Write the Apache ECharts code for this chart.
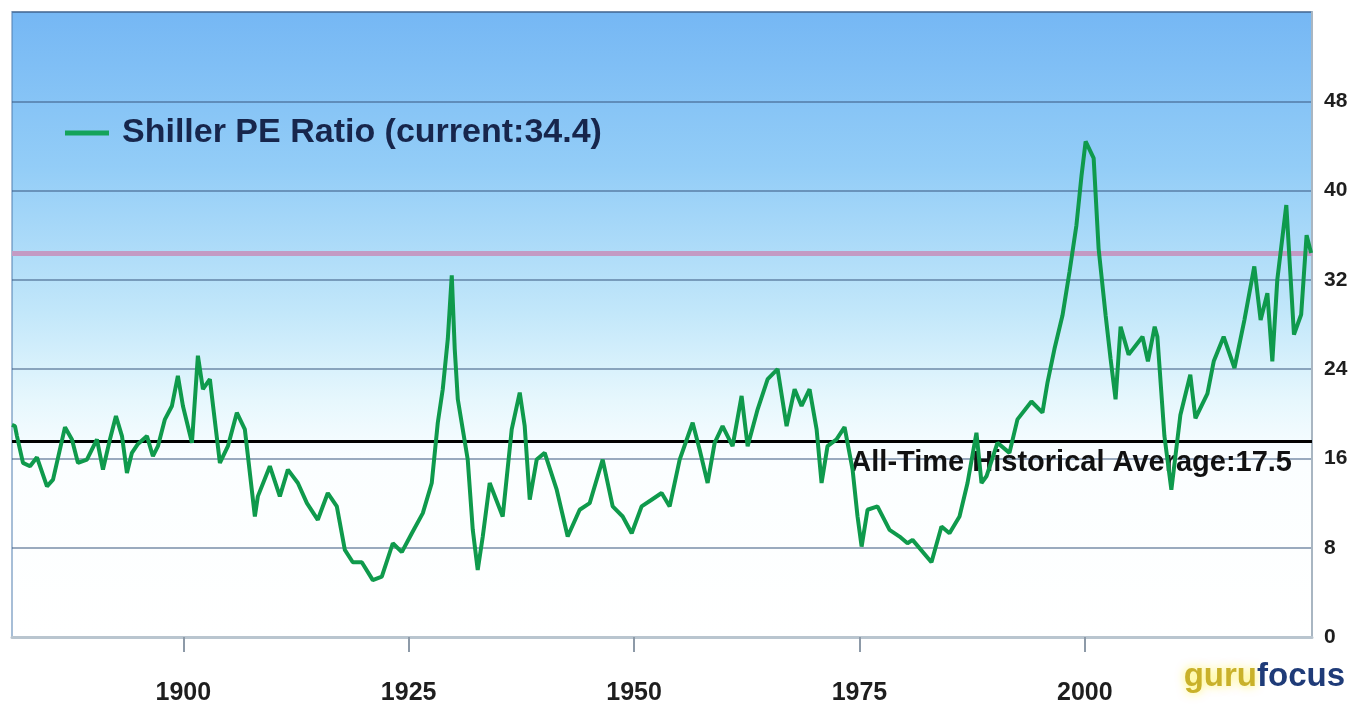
<!DOCTYPE html>
<html>
<head>
<meta charset="utf-8">
<script src="https://cdn.jsdelivr.net/npm/echarts@6/dist/echarts.min.js"></script>
<style>
  html, body { margin: 0; padding: 0; background: #ffffff; }
  #chart { width: 1369px; height: 715px; }
</style>
</head>
<body>
<div id="chart"></div>
<script>
// Shiller PE ratio, decimal year vs. value
const years = [
  1881.0, 1881.33, 1881.55, 1882.22, 1883.0, 1883.77, 1884.88, 1885.55, 1886.88, 1887.65,
  1888.32, 1889.31, 1890.42, 1891.09, 1891.86, 1892.53, 1893.2, 1893.75, 1894.3, 1894.97,
  1895.97, 1896.63, 1897.19, 1897.96, 1898.74, 1899.4, 1899.96, 1900.96, 1901.62, 1902.18,
  1902.95, 1904.06, 1904.95, 1905.94, 1906.83, 1907.94, 1908.27, 1909.6, 1910.71, 1911.6,
  1912.71, 1913.71, 1914.92, 1916.03, 1917.03, 1917.92, 1918.8, 1919.8, 1921.02, 1922.02,
  1923.24, 1924.24, 1925.35, 1926.57, 1927.56, 1928.23, 1928.78, 1929.34, 1929.78, 1930.11,
  1930.45, 1931.0, 1931.55, 1932.11, 1932.66, 1933.22, 1933.99, 1935.43, 1936.43, 1937.32,
  1937.87, 1938.43, 1939.2, 1940.09, 1941.42, 1942.64, 1943.97, 1945.08, 1946.52, 1947.63,
  1948.74, 1949.74, 1950.84, 1951.95, 1953.06, 1953.95, 1955.06, 1956.5, 1957.27, 1958.16,
  1958.94, 1959.82, 1960.93, 1961.93, 1962.6, 1963.71, 1964.82, 1965.92, 1966.92, 1967.81,
  1968.58, 1969.47, 1970.25, 1970.8, 1971.46, 1972.46, 1973.35, 1974.24, 1974.79, 1975.24,
  1975.9, 1977.0, 1978.34, 1979.45, 1980.33, 1980.89, 1982.99, 1984.1, 1984.99, 1986.1,
  1986.99, 1987.98, 1988.54, 1989.09, 1990.31, 1991.64, 1992.53, 1994.08, 1995.3, 1995.86,
  1996.63, 1997.52, 1998.3, 1999.07, 1999.63, 2000.09, 2000.98, 2001.53, 2002.31, 2002.86,
  2003.41, 2003.97, 2004.86, 2006.4, 2007.0, 2007.75, 2008.05, 2008.83, 2009.6, 2010.6,
  2011.7, 2012.27, 2013.6, 2014.3, 2015.4, 2016.6, 2017.7, 2018.8, 2019.5, 2020.25,
  2020.8, 2021.35, 2022.35, 2023.2, 2024.0, 2024.6, 2025.1
];
const peValues = [
  19.0, 18.9, 18.0, 15.6, 15.3, 16.1, 13.5, 14.1, 18.8, 17.7,
  15.6, 15.9, 17.7, 15.0, 17.7, 19.8, 18.0, 14.7, 16.5, 17.3,
  18.0, 16.2, 17.1, 19.5, 20.7, 23.4, 20.7, 17.4, 25.2, 22.2,
  23.1, 15.6, 17.1, 20.1, 18.6, 10.8, 12.6, 15.3, 12.6, 15.0,
  13.8, 12.0, 10.5, 12.9, 11.7, 7.8, 6.7, 6.7, 5.1, 5.4,
  8.4, 7.6, 9.3, 11.1, 13.8, 19.2, 22.2, 26.7, 32.4, 25.8,
  21.3, 18.6, 15.9, 9.6, 6.0, 9.0, 13.8, 10.8, 18.6, 21.9,
  18.9, 12.3, 15.9, 16.5, 13.2, 9.0, 11.4, 12.0, 15.9, 11.7,
  10.8, 9.3, 11.7, 12.3, 12.9, 11.7, 15.9, 19.2, 16.8, 13.8,
  17.4, 18.9, 17.1, 21.6, 17.1, 20.4, 23.1, 24.0, 18.9, 22.2,
  20.7, 22.2, 18.6, 13.8, 17.1, 17.7, 18.8, 15.0, 10.8, 8.1,
  11.4, 11.7, 9.6, 9.0, 8.4, 8.7, 6.7, 9.9, 9.3, 10.8,
  13.8, 18.3, 13.8, 14.4, 17.4, 16.5, 19.5, 21.1, 20.1, 22.8,
  25.8, 28.8, 32.7, 36.9, 41.3, 44.4, 42.9, 34.8, 28.8, 24.9,
  21.3, 27.8, 25.3, 26.9, 24.7, 27.8, 26.9, 18.0, 13.2, 19.9,
  23.5, 19.6, 21.8, 24.7, 26.9, 24.1, 28.4, 33.2, 28.4, 30.8,
  24.7, 32.0, 38.7, 27.1, 28.9, 36.0, 34.4
];

const seriesName = 'Shiller PE Ratio';
const currentValue = 34.4;
const historicalAverage = 17.5;

const xMin = 1881;
const xMax = 2025.2;
const xTickYears = [1900, 1925, 1950, 1975, 2000];
const yMin = 0;
const yMax = 56;
const yStep = 8;

const linePoints = years.map((y, i) => [y, peValues[i]]);

const chart = echarts.init(document.getElementById('chart'));

chart.setOption({
  animation: false,
  backgroundColor: '#ffffff',
  grid: {
    left: 12, right: 57, top: 12, bottom: 78,
    show: true,
    borderColor: 'rgba(80,125,175,0.5)',
    borderWidth: 2,
    backgroundColor: {
      type: 'linear', x: 0, y: 0, x2: 0, y2: 1,
      colorStops: [
        { offset: 0, color: '#75b7f4' },
        { offset: 0.25, color: '#93cdf7' },
        { offset: 0.48, color: '#c2e7fa' },
        { offset: 0.62, color: '#e6f7fd' },
        { offset: 0.72, color: '#fbfeff' },
        { offset: 1, color: '#ffffff' }
      ]
    }
  },
  legend: {
    left: 60, top: 111,
    icon: 'rect',
    itemWidth: 44, itemHeight: 5,
    itemGap: 10,
    textStyle: {
      fontFamily: 'Liberation Sans, Arial, sans-serif',
      fontSize: 34,
      fontWeight: 'bold',
      color: '#17264c',
      padding: [0, 0, 0, 8]
    },
    formatter: (name) => name + ' (current:' + currentValue + ')',
    data: [seriesName]
  },
  xAxis: {
    type: 'value',
    min: xMin, max: xMax,
    splitLine: { show: false },
    axisLine: { show: true, lineStyle: { color: '#b9c5cf', width: 3 } },
    axisTick: {
      show: true, length: 15,
      customValues: xTickYears,
      lineStyle: { color: '#8d9aa8', width: 2 }
    },
    axisLabel: {
      customValues: xTickYears,
      formatter: (v) => String(v),
      margin: 44,
      fontFamily: 'Liberation Sans, Arial, sans-serif',
      fontSize: 25,
      fontWeight: 'bold',
      color: '#1e1e1e'
    }
  },
  yAxis: {
    type: 'value',
    position: 'right',
    min: yMin, max: yMax, interval: yStep,
    axisLine: { show: true, lineStyle: { color: '#a9b6c2', width: 2 } },
    axisTick: { show: false },
    splitLine: { show: true, lineStyle: { color: 'rgba(55,85,125,0.5)', width: 2 } },
    axisLabel: {
      margin: 12,
      fontFamily: 'Liberation Sans, Arial, sans-serif',
      fontSize: 21,
      fontWeight: 'bold',
      color: '#1e1e1e',
      formatter: (v) => (v === yMax ? '' : String(v))
    }
  },
  series: [{
    name: seriesName,
    type: 'line',
    data: linePoints,
    showSymbol: false,
    symbol: 'none',
    color: '#14a35a',
    lineStyle: { color: '#0f9a4c', width: 4 },
    z: 5,
    markLine: {
      silent: true,
      symbol: 'none',
      data: [
        {
          yAxis: currentValue,
          lineStyle: { color: '#c39ac4', width: 5, type: 'solid' },
          label: { show: false }
        },
        {
          yAxis: historicalAverage,
          lineStyle: { color: '#000000', width: 3, type: 'solid' },
          label: {
            show: true,
            position: 'insideEndBottom',
            distance: [20, 7],
            formatter: 'All-Time Historical Average:' + historicalAverage,
            fontFamily: 'Liberation Sans, Arial, sans-serif',
            fontSize: 29,
            fontWeight: 'bold',
            color: '#111111'
          }
        }
      ]
    }
  }],
  graphic: [{
    type: 'text',
    right: 24, top: 660,
    style: {
      text: '{g|guru}{f|focus}',
      rich: {
        g: {
          fontFamily: 'Liberation Sans, Arial, sans-serif',
          fontSize: 33,
          fontWeight: 'bold',
          fill: '#c9b12a',
          textShadowColor: '#fff35a',
          textShadowBlur: 10
        },
        f: {
          fontFamily: 'Liberation Sans, Arial, sans-serif',
          fontSize: 33,
          fontWeight: 'bold',
          fill: '#1f3b78'
        }
      }
    }
  }]
});
</script>
</body>
</html>
